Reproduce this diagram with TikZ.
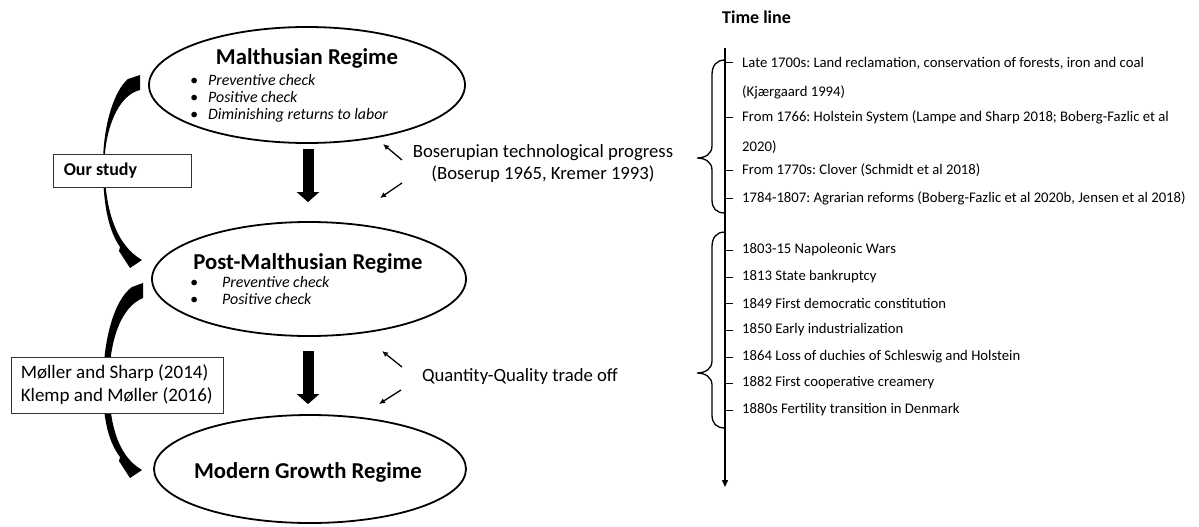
\documentclass[tikz,border=0pt]{standalone}
\usepackage{fontspec}
\setmainfont{Carlito}
\usetikzlibrary{shapes.geometric,arrows.meta,calc}
\frenchspacing
\begin{document}
\begin{tikzpicture}[x=1pt,y=-1pt,
  regime/.style={draw, ellipse, line width=1.8pt, inner sep=0pt},
  rtitle/.style={font=\fontsize{22.7}{27}\selectfont\bfseries, inner sep=0pt},
  bul/.style={font=\fontsize{15.9}{18}\selectfont\itshape, anchor=west, inner sep=0pt},
  note/.style={font=\fontsize{18.7}{22}\selectfont, inner sep=0pt, align=center},
  refbox/.style={draw=black!80, line width=0.8pt, fill=white, inner sep=0pt},
  boxtext/.style={anchor=west, inner sep=0pt, align=left},
  tl/.style={font=\fontsize{14.7}{16}\selectfont, anchor=west, inner sep=0pt},
  tick/.style={line width=1pt},
  bigarrow/.style={line width=11pt, -{Triangle[width=22pt,length=10pt]}},
  smallarrow/.style={line width=1.3pt, -{Latex[length=6pt,width=5.5pt]}},
  brace/.style={line width=1.3pt},
]
\useasboundingbox (0,0) rectangle (1199,527);

% curved arrows (behind boxes)
\fill (140,75) -- (128,79) .. controls (114,91) and (103,125) .. (103,165)
  .. controls (103,200) and (107,228) .. (120,247) -- (119,251) -- (130,268) -- (142,260)
  .. controls (116,245) and (105,210) .. (104.5,165)
  .. controls (104.5,130) and (118,95) .. (140,90) -- cycle;
\fill (143,283) -- (132,287) .. controls (114,300) and (103,340) .. (103,385)
  .. controls (103,415) and (107,440) .. (120,457) -- (119,461) -- (130,478) -- (142,470)
  .. controls (116,455) and (109.5,420) .. (109,385)
  .. controls (109,340) and (121,307) .. (143,298) -- cycle;

% regimes
\node[regime, minimum width=316pt, minimum height=116pt] (m) at (307,85) {};
\node[regime, minimum width=314pt, minimum height=114pt] (p) at (309,279) {};
\node[regime, minimum width=312pt, minimum height=108pt] (g) at (310,469) {};

\node[rtitle] (mt) at (307,58) {Malthusian Regime};
\node[bul] (m1) at (190,80) {\makebox[18pt][l]{\textbullet}Preventive check};
\node[bul] (m2) at (190,97) {\makebox[18pt][l]{\textbullet}Positive check};
\node[bul] (m3) at (190,115) {\makebox[18pt][l]{\textbullet}Diminishing returns to labor};

\node[rtitle] (pt) at (308,263) {Post-Malthusian Regime};
\node[bul] (p1) at (190,282) {\makebox[32pt][l]{\textbullet}Preventive check};
\node[bul] (p2) at (190,299) {\makebox[32pt][l]{\textbullet}Positive check};

\node[rtitle] (gt) at (308,472) {Modern Growth Regime};

% big arrows
\draw[bigarrow] ($(m.south)+(1,5)$) -- ($(p.north)+(-1,-19)$);
\draw[bigarrow] ($(p.south)+(-1,14)$) -- ($(g.north)+(-2,-10)$);

% Boserup
\node[note] (bos) at (543,164) {Boserupian technological progress\\(Boserup 1965, Kremer 1993)};
\coordinate (b1s) at (402,160); \coordinate (b1e) at (383,144);
\coordinate (b2s) at (402,183); \coordinate (b2e) at (380,198);
\draw[smallarrow] (b1s) -- (b1e);
\draw[smallarrow] (b2s) -- (b2e);

% Quantity-Quality
\node[note] (qq) at (520,377) {Quantity-Quality trade off};
\coordinate (q1s) at (402,367); \coordinate (q1e) at (382,351);
\coordinate (q2s) at (401,390); \coordinate (q2e) at (379,404);
\draw[smallarrow] (q1s) -- (q1e);
\draw[smallarrow] (q2s) -- (q2e);

% boxes
\node[refbox, minimum width=138pt, minimum height=33pt] (os) at (122,170.5) {};
\node[boxtext, font=\fontsize{18}{22}\selectfont\bfseries] (ost) at ([xshift=11pt]os.west) {Our study};
\node[refbox, minimum width=212pt, minimum height=56pt] (ms) at (117,385) {};
\node[boxtext, font=\fontsize{19}{23}\selectfont] (mst) at ([xshift=10pt]ms.west) {Møller and Sharp (2014)\\Klemp and Møller (2016)};

% timeline
\node[font=\fontsize{18}{20}\selectfont\bfseries, anchor=west, inner sep=0pt] (tt) at (722,17) {Time line};
\coordinate (tltop) at (725,48);
\coordinate (tlbot) at (725,487);
\draw[line width=1.3pt, -{Triangle[length=7pt,width=6pt]}] (tltop) -- (tlbot);

\draw[brace] (725,60) .. controls (716,60) and (712,66) .. (712,75) -- (712,146)
  .. controls (712,154) and (705,158) .. (697,158)
  .. controls (705,158) and (712,162) .. (712,170) -- (712,200)
  .. controls (712,208) and (716,213) .. (725,213);
\draw[brace] (725,232) .. controls (716,232) and (712,238) .. (712,247) -- (712,361)
  .. controls (712,369) and (705,373) .. (697,373)
  .. controls (705,373) and (712,377) .. (712,385) -- (712,415)
  .. controls (712,423) and (716,428) .. (725,428);

\foreach \y in {63,117,170,198,250,277,303,330,357,383,410}
  \draw[tick] (725,\y) -- (733,\y);

\node[tl] (e1) at (742,63) {Late 1700s: Land reclamation, conservation of forests, iron and coal};
\node[tl] (e1b) at (742,92) {(Kjærgaard 1994)};
\node[tl] (e2) at (742,117) {From 1766: Holstein System (Lampe and Sharp 2018; Boberg-Fazlic et al};
\node[tl] (e2b) at (742,147) {2020)};
\node[tl] (e3) at (742,170) {From 1770s: Clover (Schmidt et al 2018)};
\node[tl] (e4) at (742,198) {1784-1807: Agrarian reforms (Boberg-Fazlic et al 2020b, Jensen et al 2018)};

\node[tl] (f1) at (742,250) {1803-15 Napoleonic Wars};
\node[tl] (f2) at (742,277) {1813 State bankruptcy};
\node[tl] (f3) at (742,303) {1849 First democratic constitution};
\node[tl] (f4) at (742,330) {1850 Early industrialization};
\node[tl] (f5) at (742,357) {1864 Loss of duchies of Schleswig and Holstein};
\node[tl] (f6) at (742,383) {1882 First cooperative creamery};
\node[tl] (f7) at (742,410) {1880s Fertility transition in Denmark};
\end{tikzpicture}
\end{document}
